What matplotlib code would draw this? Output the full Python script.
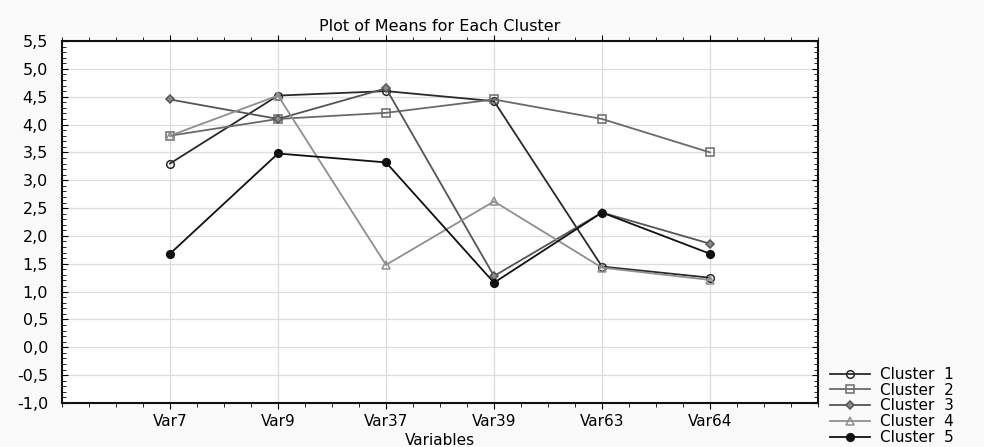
import matplotlib.pyplot as plt
import matplotlib.ticker as mticker

plt.rcParams['font.family'] = ['DejaVu Sans']

variables = ['Var7', 'Var9', 'Var37', 'Var39', 'Var63', 'Var64']
cluster1 = [3.30, 4.52, 4.60, 4.42, 1.45, 1.25]
cluster2 = [3.80, 4.10, 4.21, 4.45, 4.10, 3.50]
cluster3 = [4.45, 4.10, 4.65, 1.28, 2.42, 1.86]
cluster4 = [3.80, 4.52, 1.48, 2.62, 1.43, 1.21]
cluster5 = [1.68, 3.48, 3.32, 1.16, 2.42, 1.68]
names = ['Cluster  1', 'Cluster  2', 'Cluster  3', 'Cluster  4', 'Cluster  5']

# line styles per cluster
styles = [
    dict(color='#2a2a2a', marker='o', mfc='none', ms=5.5),
    dict(color='#6a6a6a', marker='s', mfc='none', ms=6),
    dict(color='#555555', marker='D', mfc='#8a8a8a', ms=4.5),
    dict(color='#8f8f8f', marker='^', mfc='none', ms=5.5),
    dict(color='#111111', marker='o', mfc='#111111', ms=5.5),
]

fig = plt.figure(figsize=(9.84, 4.47), dpi=100, facecolor='#fafafa')
ax = fig.add_axes([62 / 984, 44 / 447, 756 / 984, 362 / 447])

x = list(range(len(variables)))
series = [cluster1, cluster2, cluster3, cluster4, cluster5]
for vals, name, st in zip(series, names, styles):
    ax.plot(x, vals, lw=1.3, mew=1.1, label=name, **st)

ax.set_xlim(-1, 6)
ax.set_ylim(-1.0, 5.5)
ax.set_xticks(x)
ax.set_xticklabels(variables)
ax.set_yticks([i * 0.5 - 1.0 for i in range(14)])
ax.yaxis.set_major_formatter(mticker.FuncFormatter(lambda v, p: ('%.1f' % v).replace('.', ',')))
ax.xaxis.set_minor_locator(mticker.MultipleLocator(0.25))
ax.yaxis.set_minor_locator(mticker.MultipleLocator(0.1))
ax.grid(True, color='#dddddd', lw=0.9)
ax.set_axisbelow(True)
for s in ax.spines.values():
    s.set_linewidth(1.5)
    s.set_color('#111111')
ax.tick_params(axis='x', which='both', direction='out', top=True, labelsize=11, pad=4)
ax.tick_params(axis='y', which='both', direction='in', right=True, labelsize=11.5, pad=10)
ax.tick_params(which='minor', length=3)
ax.tick_params(which='major', length=4)

ax.set_title('Plot of Means for Each Cluster', fontsize=11.5, pad=7)
ax.set_xlabel('Variables', fontsize=11, labelpad=3)

ax.legend(loc='lower left', bbox_to_anchor=(830 / 984, 2 / 447), bbox_transform=fig.transFigure,
          frameon=False, fontsize=11, handlelength=2.6, handletextpad=0.7,
          labelspacing=0.05, borderaxespad=0, borderpad=0)

fig.savefig('out.png', dpi=100, facecolor=fig.get_facecolor())
